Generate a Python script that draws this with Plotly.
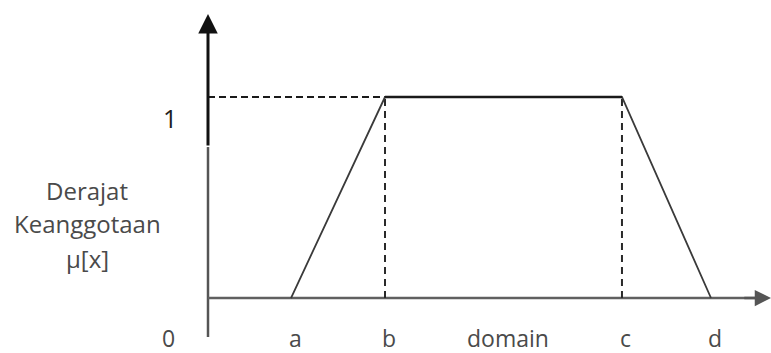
import plotly.graph_objects as go

# --- data ---
point_labels = ["a", "b", "c", "d"]
domain_x = [0.883, 1.883, 4.404, 5.351]   # positions of a, b, c, d on the domain
membership = [0, 1, 1, 0]                  # mu at a, b, c, d
y_tick_labels = ["0", "1"]
y_title_lines = ["Derajat", "Keanggotaan", "\u03bc[x]"]
x_title = "domain"

W, H = 771, 353
X_MIN, X_MAX = -2.2128, 5.9894
Y_MIN, Y_MAX = -0.2736, 1.4826

FONT = "Open Sans"
TXT = "#4a4a4a"
LABEL_Y = -0.197

fig = go.Figure()

# y-axis lower (grey) part
fig.add_trace(go.Scatter(x=[0, 0], y=[-0.194, 0.751], mode="lines",
                         line=dict(color="#555555", width=2.5), hoverinfo="skip"))
# x-axis line
fig.add_trace(go.Scatter(x=[0, X_MAX - 0.1], y=[0, 0], mode="lines",
                         line=dict(color="#606060", width=2.5), hoverinfo="skip"))

# dashed guides
b_x, c_x = domain_x[1], domain_x[2]
fig.add_trace(go.Scatter(x=[0, b_x], y=[1, 1], mode="lines",
                         line=dict(color="#1a1a1a", width=2, dash="7px,4px"), hoverinfo="skip"))
fig.add_trace(go.Scatter(x=[b_x, b_x], y=[0, 1], mode="lines",
                         line=dict(color="#2a2a2a", width=2, dash="7px,5px"), hoverinfo="skip"))
fig.add_trace(go.Scatter(x=[c_x, c_x], y=[0, 1], mode="lines",
                         line=dict(color="#2a2a2a", width=2, dash="7px,5px"), hoverinfo="skip"))

# trapezoid membership function
fig.add_trace(go.Scatter(x=domain_x, y=membership, mode="lines",
                         line=dict(color="#3a3a3a", width=1.8), hoverinfo="skip"))
fig.add_trace(go.Scatter(x=domain_x[1:3], y=membership[1:3], mode="lines",
                         line=dict(color="#1a1a1a", width=2.6), hoverinfo="skip"))

annotations = []
# y-axis arrow (upper black part)
annotations.append(dict(x=0, y=1.413, ax=0, ay=0.751, xref="x", yref="y",
                        axref="x", ayref="y", text="", showarrow=True,
                        arrowhead=2, arrowsize=1.3, arrowwidth=3, arrowcolor="#111111"))
# x-axis arrow head
annotations.append(dict(x=X_MAX, y=0, ax=X_MAX - 0.3, ay=0, xref="x", yref="y",
                        axref="x", ayref="y", text="", showarrow=True,
                        arrowhead=2, arrowsize=1.3, arrowwidth=2.5, arrowcolor="#555555"))

# point labels
for lab, xv in zip(point_labels, domain_x):
    annotations.append(dict(x=xv, y=LABEL_Y, xref="x", yref="y", text=lab, showarrow=False,
                            xshift=4, font=dict(family=FONT, size=23, color=TXT)))
annotations.append(dict(x=(b_x + c_x) / 2 + 0.05, y=LABEL_Y, xref="x", yref="y", text=x_title,
                        showarrow=False, font=dict(family=FONT, size=23, color=TXT)))
# y tick labels
annotations.append(dict(x=-0.425, y=LABEL_Y, xref="x", yref="y", text=y_tick_labels[0],
                        showarrow=False, font=dict(family=FONT, size=23, color=TXT)))
annotations.append(dict(x=-0.404, y=0.896, xref="x", yref="y", text=y_tick_labels[1],
                        showarrow=False, font=dict(family=FONT, size=25, color="#1e1e1e")))
# y title
for line, yv in zip(y_title_lines, [0.537, 0.373, 0.199]):
    annotations.append(dict(x=-1.287, y=yv, xref="x", yref="y", text=line, showarrow=False,
                            font=dict(family=FONT, size=24, color=TXT)))

fig.update_layout(
    width=W, height=H,
    margin=dict(l=0, r=0, t=0, b=0),
    paper_bgcolor="white", plot_bgcolor="white",
    showlegend=False,
    xaxis=dict(range=[X_MIN, X_MAX], visible=False, fixedrange=True),
    yaxis=dict(range=[Y_MIN, Y_MAX], visible=False, fixedrange=True),
    annotations=annotations,
)

fig.write_html("out.html", config={"displayModeBar": False},
               post_script="document.body.style.margin='0';document.body.style.overflow='hidden';")
